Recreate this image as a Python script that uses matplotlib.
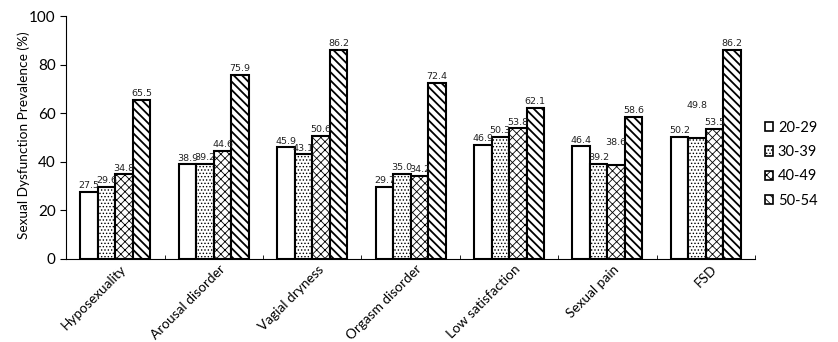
import matplotlib.pyplot as plt
import numpy as np

plt.rcParams["hatch.linewidth"] = 0.6

categories = ["Hyposexuality", "Arousal disorder", "Vagial dryness", "Orgasm disorder",
              "Low satisfaction", "Sexual pain", "FSD"]
age_groups = ["20-29", "30-39", "40-49", "50-54"]
age_20_29 = [27.5, 38.9, 45.9, 29.7, 46.9, 46.4, 50.2]
age_30_39 = [29.6, 39.2, 43.1, 35.0, 50.3, 39.2, 49.8]
age_40_49 = [34.8, 44.6, 50.6, 34.2, 53.8, 38.6, 53.5]
age_50_54 = [65.5, 75.9, 86.2, 72.4, 62.1, 58.6, 86.2]

series = [age_20_29, age_30_39, age_40_49, age_50_54]
hatches = ["", ".....", "xxxx", "\\\\\\\\"]
hatch_lw = [0.6, 0.6, 0.6, 1.3]

# a few labels sit higher so they don't collide with neighbours
label_lift = {(1, 6): 11.5, (2, 5): 7.4}

fig = plt.figure(figsize=(8.38, 3.42), dpi=100)
ax = fig.add_axes([0.079, 0.243, 0.822, 0.71])

x = np.arange(len(categories))
w = 0.178
for i, vals in enumerate(series):
    pos = x + (i - 1.5) * w
    bars = ax.bar(pos, vals, w, color="white", edgecolor="black", linewidth=1.5,
                  hatch=hatches[i], label=age_groups[i])
    for b in bars:
        if hasattr(b, "set_hatch_linewidth"):
            b.set_hatch_linewidth(hatch_lw[i])
    for j, v in enumerate(vals):
        lift = label_lift.get((i, j), 0.7)
        ax.text(pos[j], v + lift, f"{v:.1f}", ha="center", va="bottom",
                fontsize=6.8, family="DejaVu Sans", color="#222222")

ax.set_xlim(-0.5, len(categories) - 0.5)
ax.set_ylim(0, 100)
ax.set_yticks([0, 20, 40, 60, 80, 100])
ax.set_ylabel("Sexual Dysfunction Prevalence (%)", family="Lato", fontsize=9.8)
ax.yaxis.set_label_coords(-0.052, 0.51)
ax.spines["top"].set_visible(False)
ax.spines["right"].set_visible(False)
ax.tick_params(axis="y", labelsize=11, length=4, direction="out")
for lbl in ax.get_yticklabels():
    lbl.set_family("Lato")

ax.set_xticks(x + 0.05)
ax.set_xticklabels(categories, rotation=45, ha="right", rotation_mode="anchor",
                   family="Lato", fontsize=9.8)
ax.tick_params(axis="x", length=0, pad=3)
ax.set_xticks(np.arange(len(categories)) + 0.5, minor=True)
ax.tick_params(axis="x", which="minor", direction="in", length=3)

leg = ax.legend(loc="center left", bbox_to_anchor=(0.995, 0.39), frameon=False,
                prop={"family": "Lato", "size": 10.5}, handlelength=0.6,
                handleheight=0.6, handletextpad=0.3, labelspacing=0.7)
for h in leg.legend_handles:
    h.set_linewidth(1.2)

fig.savefig("out.png", dpi=100)
